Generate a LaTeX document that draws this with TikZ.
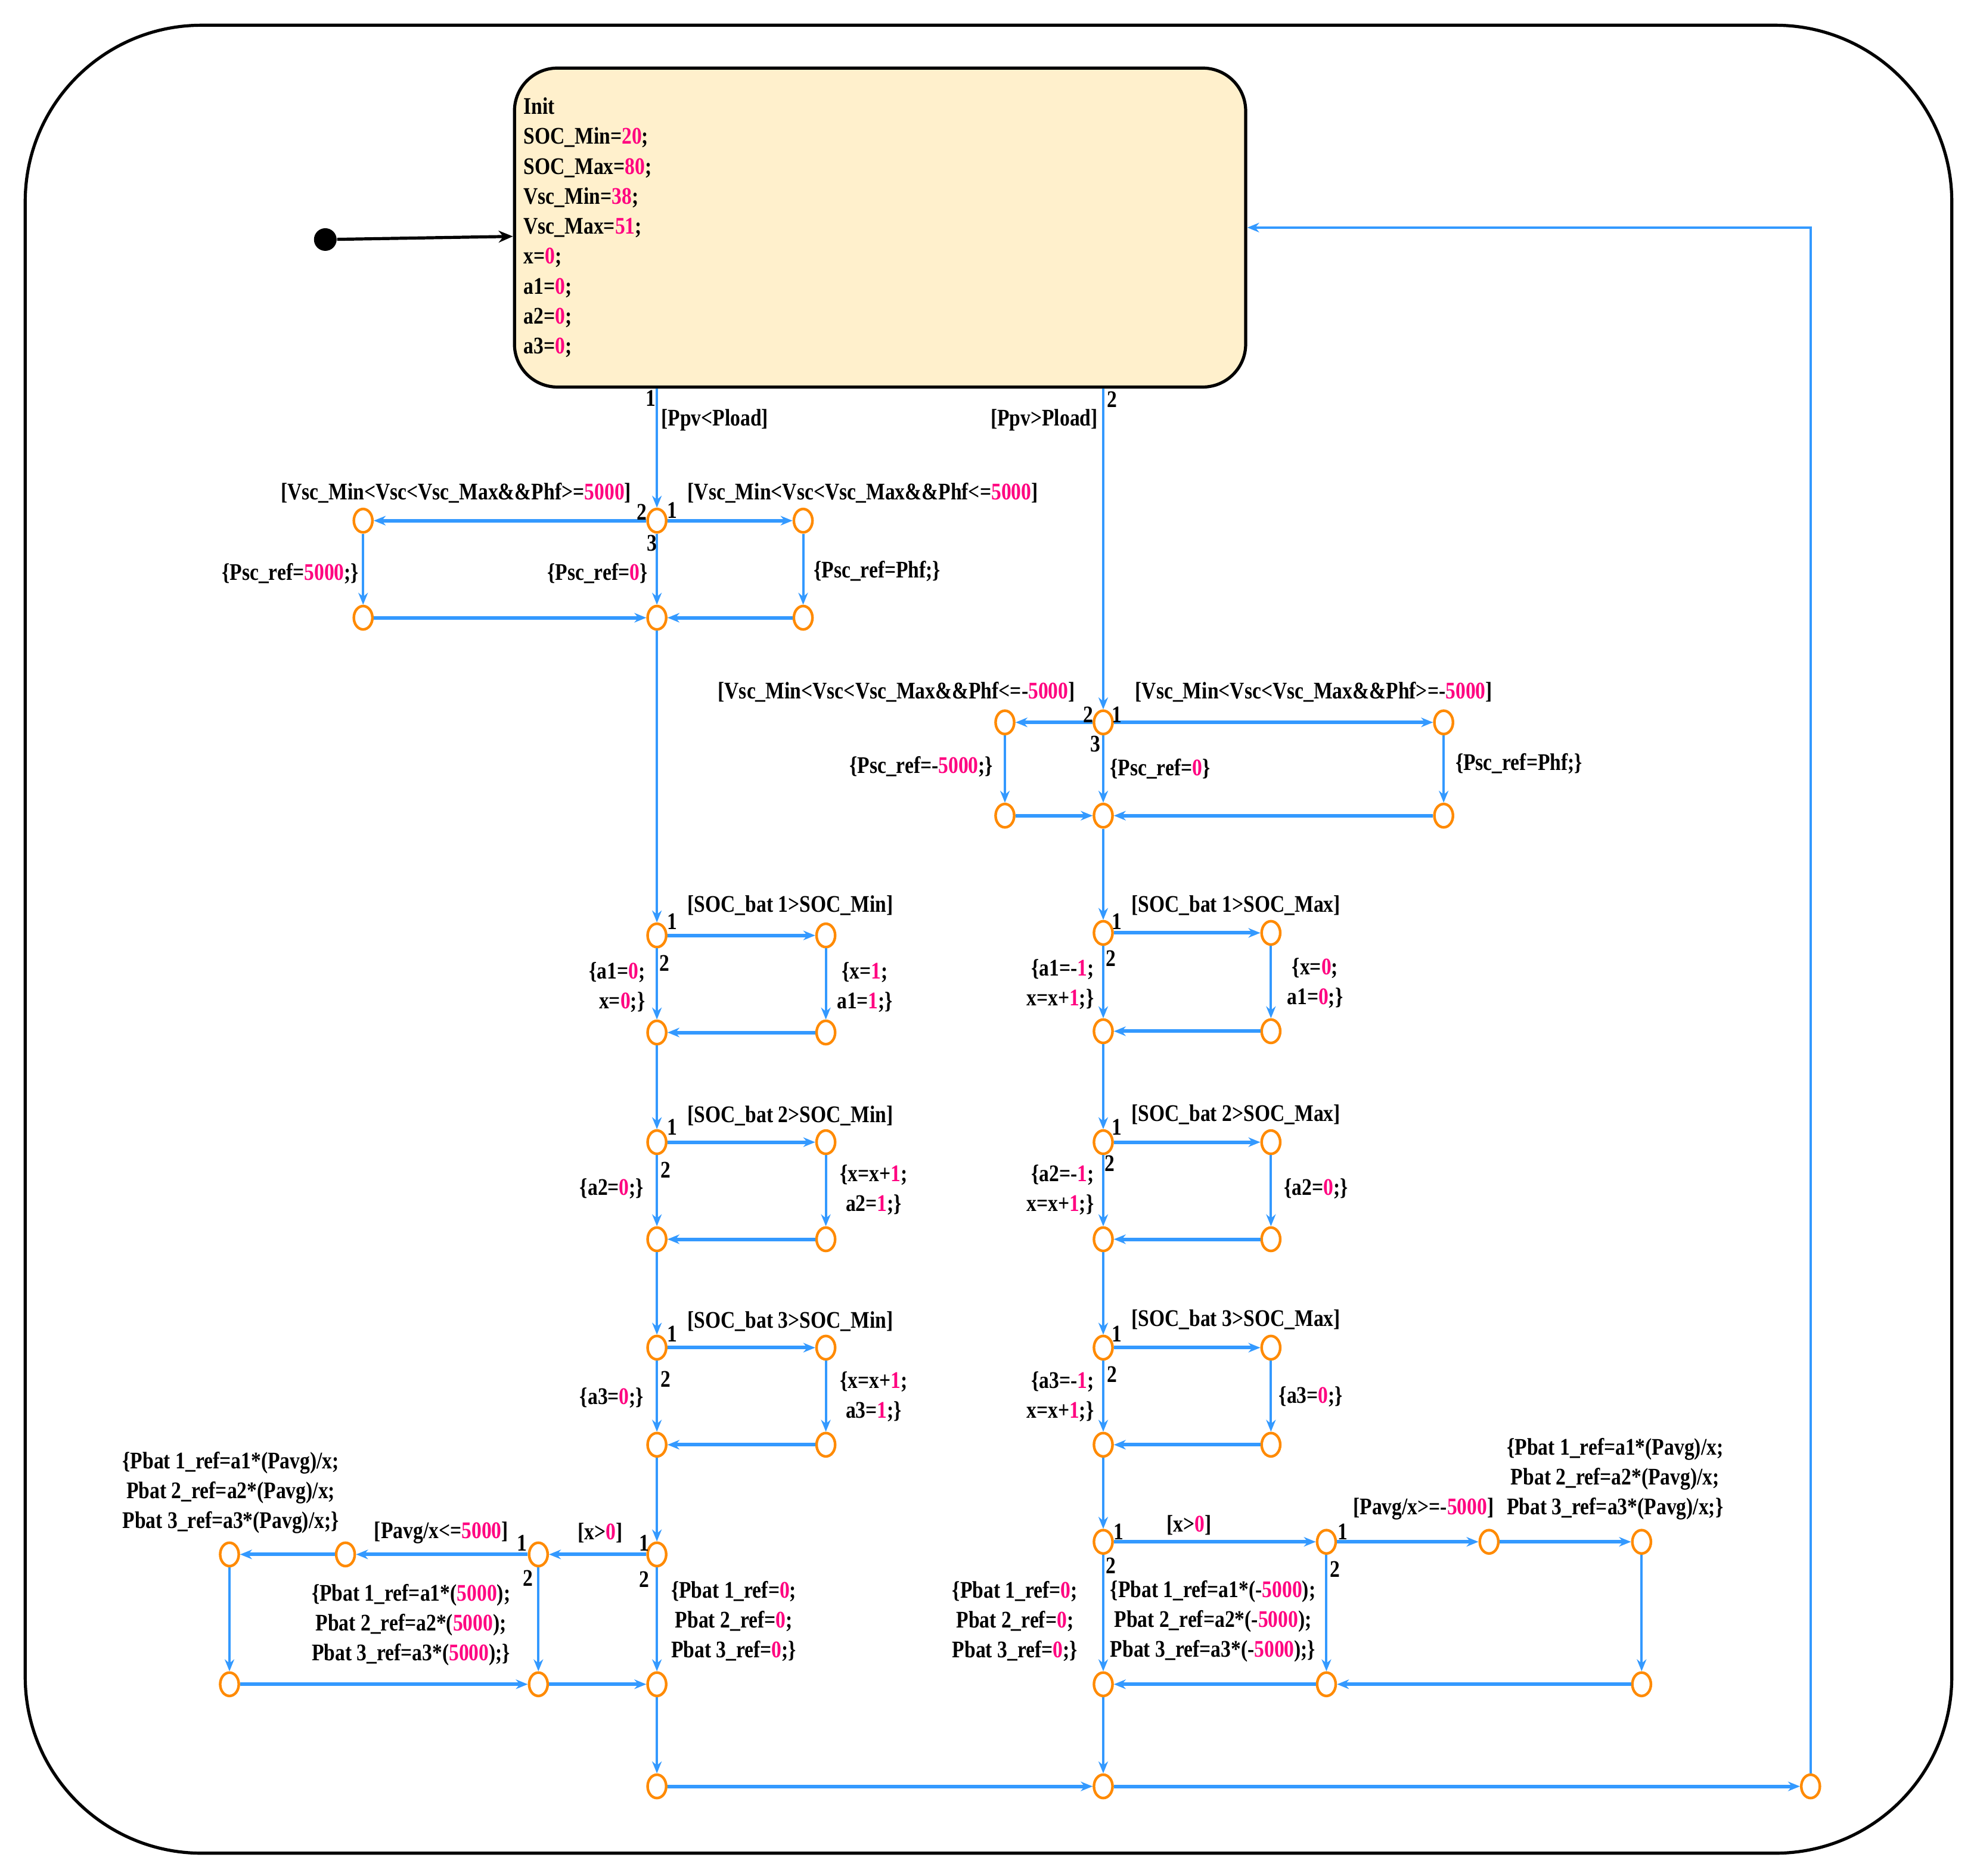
\documentclass[tikz,border=0pt]{standalone}
\usepackage{fontspec}
\setmainfont{Liberation Serif}[FakeStretch=0.84]
\usetikzlibrary{shapes.geometric,arrows.meta,calc}
\definecolor{bluec}{HTML}{3399FF}
\definecolor{orc}{HTML}{FF8A00}
\definecolor{numc}{HTML}{FF0080}
\definecolor{creamc}{HTML}{FFF0CC}
\newcommand\nm[1]{\textcolor{numc}{#1}}
\begin{document}
\begin{tikzpicture}[x=0.52885pt,y=-0.52885pt,
 every node/.style={font=\fontsize{10}{12.5}\selectfont\bfseries, inner sep=0pt},
 st/.style={ellipse,draw=orc,line width=1.1pt,fill=white,minimum width=7.8pt,minimum height=9.8pt},
 tr/.style={draw=bluec,line width=1pt,-{Stealth[length=5pt,width=4pt]}},
 th/.style={tr,line width=1.5pt},
 lb/.style={align=center},
 lbr/.style={align=right},
]
\useasboundingbox (0,0) rectangle (1568,1488);
\draw[line width=1.3pt,rounded corners=74pt] (20,20) rectangle (1548,1470);

% Init state
\node[draw=black,line width=1.3pt,fill=creamc,rounded corners=18pt,
      minimum width=306.7pt,minimum height=133.8pt,text width=299pt,
      align=left,inner xsep=3.7pt,inner ysep=0pt,
      font=\fontsize{10}{12.56}\selectfont\bfseries] (init) at (698,180.5)
  {Init\\SOC\_Min=\nm{20};\\SOC\_Max=\nm{80};\\Vsc\_Min=\nm{38};\\Vsc\_Max=\nm{51};\\x=\nm{0};\\a1=\nm{0};\\a2=\nm{0};\\a3=\nm{0};};
\node[circle,fill=black,minimum size=9.5pt] (s0) at (258,190) {};
\draw[line width=1.3pt,-{Stealth[length=6pt,width=5pt]}] (s0) -- ($(init.west)+(0,7)$);

% ---------- left Psc block
\node[st] (p1j) at (521,413) {};
\node[st] (p1l) at (288,413) {};
\node[st] (p1r) at (637,413) {};
\node[st] (p1bl) at (288,490) {};
\node[st] (p1bm) at (521,490) {};
\node[st] (p1br) at (637,490) {};
\draw[tr] (p1j |- init.south) -- (p1j);
\draw[th] (p1j) -- (p1l);
\draw[th] (p1j) -- (p1r);
\draw[tr] (p1l) -- (p1bl);
\draw[tr] (p1j) -- (p1bm);
\draw[tr] (p1r) -- (p1br);
\draw[th] (p1bl) -- (p1bm);
\draw[th] (p1br) -- (p1bm);
\node (t1) at (516,316) {1};
\node[anchor=west] (t2) at (524,333) {[Ppv<Pload]};
\node[anchor=east] (t3) at (501,391) {[Vsc\_Min<Vsc<Vsc\_Max\&\&Phf>=\nm{5000}]};
\node[anchor=west] (t4) at (545,391) {[Vsc\_Min<Vsc<Vsc\_Max\&\&Phf<=\nm{5000}]};
\node (t5) at (509,406) {2};
\node (t6) at (533,405) {1};
\node (t7) at (517,431) {3};
\node[anchor=east] (t8) at (285,455) {\{Psc\_ref=\nm{5000};\}};
\node[anchor=east] (t9) at (514,455) {\{Psc\_ref=\nm{0}\}};
\node[anchor=west] (t10) at (645,453) {\{Psc\_ref=Phf;\}};

% ---------- right Psc block
\node[st] (p2j) at (875,573) {};
\node[st] (p2l) at (797,573) {};
\node[st] (p2r) at (1145,573) {};
\node[st] (p2bl) at (797,647) {};
\node[st] (p2bm) at (875,647) {};
\node[st] (p2br) at (1145,647) {};
\draw[tr] (p2j |- init.south) -- (p2j);
\draw[th] (p2j) -- (p2l);
\draw[th] (p2j) -- (p2r);
\draw[tr] (p2l) -- (p2bl);
\draw[tr] (p2j) -- (p2bm);
\draw[tr] (p2r) -- (p2br);
\draw[th] (p2bl) -- (p2bm);
\draw[th] (p2br) -- (p2bm);
\node (u1) at (882,317) {2};
\node[anchor=east] (u2) at (871,333) {[Ppv>Pload]};
\node[anchor=east] (u3) at (853,549) {[Vsc\_Min<Vsc<Vsc\_Max\&\&Phf<=-\nm{5000}]};
\node[anchor=west] (u4) at (900,549) {[Vsc\_Min<Vsc<Vsc\_Max\&\&Phf>=-\nm{5000}]};
\node (u5) at (863,567) {2};
\node (u6) at (886,567) {1};
\node (u7) at (869,590) {3};
\node[anchor=east] (u8) at (788,608) {\{Psc\_ref=-\nm{5000};\}};
\node[anchor=west] (u9) at (880,610) {\{Psc\_ref=\nm{0}\}};
\node[anchor=west] (u10) at (1154,606) {\{Psc\_ref=Phf;\}};

% ---------- left SOC blocks
\node[st] (l1j) at (521,742) {};
\node[st] (l1r) at (655,742) {};
\node[st] (l1bl) at (521,819) {};
\node[st] (l1br) at (655,819) {};
\node[st] (l2j) at (521,906) {};
\node[st] (l2r) at (655,906) {};
\node[st] (l2bl) at (521,983) {};
\node[st] (l2br) at (655,983) {};
\node[st] (l3j) at (521,1069) {};
\node[st] (l3r) at (655,1069) {};
\node[st] (l3bl) at (521,1146) {};
\node[st] (l3br) at (655,1146) {};
\draw[tr] (p1bm) -- (l1j);
\foreach \k in {1,2,3}{
  \draw[th] (l\k j) -- (l\k r);
  \draw[tr] (l\k r) -- (l\k br);
  \draw[tr] (l\k j) -- (l\k bl);
  \draw[th] (l\k br) -- (l\k bl);
}
\draw[tr] (l1bl) -- (l2j);
\draw[tr] (l2bl) -- (l3j);
\node[anchor=west] (v1) at (545,718) {[SOC\_bat 1>SOC\_Min]};
\node (v2) at (533,731) {1};
\node (v3) at (527,764) {2};
\node[anchor=east,lbr] (v4) at (512,783) {\{a1=\nm{0};\\x=\nm{0};\}};
\node[lb] (v5) at (686,783) {\{x=\nm{1};\\a1=\nm{1};\}};
\node[anchor=west] (v6) at (545,885) {[SOC\_bat 2>SOC\_Min]};
\node (v7) at (533,894) {1};
\node (v8) at (528,928) {2};
\node[anchor=east] (v9) at (511,943) {\{a2=\nm{0};\}};
\node[lb] (v10) at (693,944) {\{x=x+\nm{1};\\a2=\nm{1};\}};
\node[anchor=west] (v11) at (545,1048) {[SOC\_bat 3>SOC\_Min]};
\node (v12) at (533,1058) {1};
\node (v13) at (528,1094) {2};
\node[anchor=east] (v14) at (511,1109) {\{a3=\nm{0};\}};
\node[lb] (v15) at (693,1108) {\{x=x+\nm{1};\\a3=\nm{1};\}};

% ---------- right SOC blocks
\node[st] (r1j) at (875,740) {};
\node[st] (r1r) at (1008,740) {};
\node[st] (r1bl) at (875,818) {};
\node[st] (r1br) at (1008,818) {};
\node[st] (r2j) at (875,906) {};
\node[st] (r2r) at (1008,906) {};
\node[st] (r2bl) at (875,983) {};
\node[st] (r2br) at (1008,983) {};
\node[st] (r3j) at (875,1069) {};
\node[st] (r3r) at (1008,1069) {};
\node[st] (r3bl) at (875,1146) {};
\node[st] (r3br) at (1008,1146) {};
\draw[tr] (p2bm) -- (r1j);
\foreach \k in {1,2,3}{
  \draw[th] (r\k j) -- (r\k r);
  \draw[tr] (r\k r) -- (r\k br);
  \draw[tr] (r\k j) -- (r\k bl);
  \draw[th] (r\k br) -- (r\k bl);
}
\draw[tr] (r1bl) -- (r2j);
\draw[tr] (r2bl) -- (r3j);
\node[anchor=west] (w1) at (897,718) {[SOC\_bat 1>SOC\_Max]};
\node (w2) at (886,731) {1};
\node (w3) at (881,760) {2};
\node[anchor=east,lbr] (w4) at (868,781) {\{a1=-\nm{1};\\x=x+\nm{1};\}};
\node[lb] (w5) at (1043,780) {\{x=\nm{0};\\a1=\nm{0};\}};
\node[anchor=west] (w6) at (897,884) {[SOC\_bat 2>SOC\_Max]};
\node (w7) at (886,894) {1};
\node (w8) at (880,923) {2};
\node[anchor=east,lbr] (w9) at (868,944) {\{a2=-\nm{1};\\x=x+\nm{1};\}};
\node[anchor=west] (w10) at (1018,943) {\{a2=\nm{0};\}};
\node[anchor=west] (w11) at (897,1047) {[SOC\_bat 3>SOC\_Max]};
\node (w12) at (886,1058) {1};
\node (w13) at (882,1090) {2};
\node[anchor=east,lbr] (w14) at (868,1108) {\{a3=-\nm{1};\\x=x+\nm{1};\}};
\node[anchor=west] (w15) at (1014,1108) {\{a3=\nm{0};\}};

% ---------- bottom-left block
\node[st] (b1j) at (521,1233) {};
\node[st] (b1a) at (427,1233) {};
\node[st] (b1b) at (274,1233) {};
\node[st] (b1c) at (182,1233) {};
\node[st] (b1cb) at (182,1336) {};
\node[st] (b1ab) at (427,1336) {};
\node[st] (b1jb) at (521,1336) {};
\node[st] (e1) at (521,1417) {};
\draw[tr] (l3bl) -- (b1j);
\draw[th] (b1j) -- (b1a);
\draw[th] (b1a) -- (b1b);
\draw[th] (b1b) -- (b1c);
\draw[tr] (b1c) -- (b1cb);
\draw[th] (b1cb) -- (b1ab);
\draw[tr] (b1a) -- (b1ab);
\draw[th] (b1ab) -- (b1jb);
\draw[tr] (b1j) -- (b1jb);
\draw[tr] (b1jb) -- (e1);
\node (x1) at (476,1216) {[x>\nm{0}]};
\node (x2) at (511,1224) {1};
\node (x3) at (511,1253) {2};
\node (x4) at (350,1216) {[Pavg/x<=\nm{5000}]};
\node (x5) at (414,1224) {1};
\node (x6) at (419,1252) {2};
\node[lb] (x7) at (183,1184) {\{Pbat 1\_ref=a1*(Pavg)/x;\\Pbat 2\_ref=a2*(Pavg)/x;\\Pbat 3\_ref=a3*(Pavg)/x;\}};
\node[lb] (x8) at (326,1289) {\{Pbat 1\_ref=a1*(\nm{5000});\\Pbat 2\_ref=a2*(\nm{5000});\\Pbat 3\_ref=a3*(\nm{5000});\}};
\node[lb] (x9) at (582,1286) {\{Pbat 1\_ref=\nm{0};\\Pbat 2\_ref=\nm{0};\\Pbat 3\_ref=\nm{0};\}};

% ---------- bottom-right block
\node[st] (b2j) at (875,1223) {};
\node[st] (b2a) at (1052,1223) {};
\node[st] (b2b) at (1181,1223) {};
\node[st] (b2c) at (1302,1223) {};
\node[st] (b2cb) at (1302,1336) {};
\node[st] (b2ab) at (1052,1336) {};
\node[st] (b2jb) at (875,1336) {};
\node[st] (e2) at (875,1417) {};
\node[st] (e3) at (1436,1417) {};
\draw[tr] (r3bl) -- (b2j);
\draw[th] (b2j) -- (b2a);
\draw[th] (b2a) -- (b2b);
\draw[th] (b2b) -- (b2c);
\draw[tr] (b2c) -- (b2cb);
\draw[th] (b2cb) -- (b2ab);
\draw[tr] (b2a) -- (b2ab);
\draw[th] (b2ab) -- (b2jb);
\draw[tr] (b2j) -- (b2jb);
\draw[tr] (b2jb) -- (e2);
\draw[th] (e1) -- (e2);
\draw[th] (e2) -- (e3);
\draw[tr] (e3) -- (e3 |- init.east) -- (init.east);
\node (y1) at (943,1210) {[x>\nm{0}]};
\node (y2) at (887,1215) {1};
\node (y3) at (881,1242) {2};
\node (y4) at (1129,1197) {[Pavg/x>=-\nm{5000}]};
\node (y5) at (1065,1215) {1};
\node (y6) at (1059,1245) {2};
\node[lb] (y7) at (1281,1173) {\{Pbat 1\_ref=a1*(Pavg)/x;\\Pbat 2\_ref=a2*(Pavg)/x;\\Pbat 3\_ref=a3*(Pavg)/x;\}};
\node[lb] (y8) at (962,1286) {\{Pbat 1\_ref=a1*(-\nm{5000});\\Pbat 2\_ref=a2*(-\nm{5000});\\Pbat 3\_ref=a3*(-\nm{5000});\}};
\node[lb] (y9) at (805,1286) {\{Pbat 1\_ref=\nm{0};\\Pbat 2\_ref=\nm{0};\\Pbat 3\_ref=\nm{0};\}};
\end{tikzpicture}
\end{document}
